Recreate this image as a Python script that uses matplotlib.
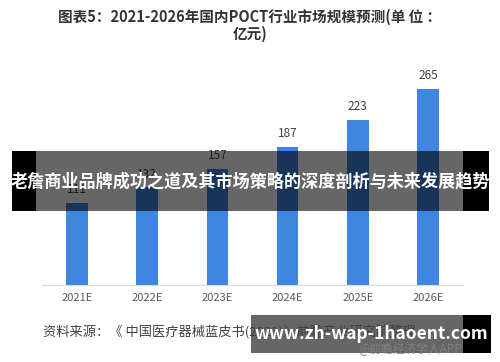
import matplotlib
matplotlib.use("Agg")
import matplotlib.pyplot as plt
from matplotlib.patches import Rectangle

plt.rcParams['font.family'] = ['Noto Sans CJK SC', 'DejaVu Sans']

years = ["2021E", "2022E", "2023E", "2024E", "2025E", "2026E"]
market_size = [111, 132, 157, 187, 223, 265]

W, H = 500, 362
fig = plt.figure(figsize=(W / 100, H / 100), dpi=100)
ax = fig.add_axes([42 / W, 1 - 285 / H, 421 / W, 222 / H])

x = range(len(years))
ax.bar(x, market_size, width=0.31, color="#3e86e0")
for i, v in enumerate(market_size):
    ax.text(i, v + 9, str(v), ha="center", va="bottom", fontsize=8.5, color="#404040")

ax.set_xlim(-0.5, len(years) - 0.5)
ax.set_ylim(0, 300)
ax.set_xticks(list(x))
ax.set_xticklabels(years, fontsize=8, color="#595959")
ax.tick_params(axis="x", length=0, pad=6)
ax.set_yticks([])
for s in ["top", "right", "left"]:
    ax.spines[s].set_visible(False)
ax.spines["bottom"].set_color("#d9d9d9")

# title
fig.text(0.5, 1 - 17 / H, "图表5：2021-2026年国内POCT行业市场规模预测(单 位 ：",
         ha="center", va="center", fontsize=10.5, fontweight="bold", color="#333333")
fig.text(0.5, 1 - 34 / H, "亿元)", ha="center", va="center",
         fontsize=10.5, fontweight="bold", color="#333333")

# source
fig.text(43 / W, 1 - 332 / H, "资料来源：《 中国医疗器械蓝皮书(2021)》前瞻产业研究院整理",
         ha="left", va="center", fontsize=9.5, color="#404040")
fig.text(462 / W, 1 - 349 / H, "@前瞻经济学人APP", ha="right", va="center",
         fontsize=8.5, color="#808080")


def rect(x0, x1, y0, y1, alpha):
    fig.add_artist(Rectangle((x0 / W, 1 - y1 / H), (x1 - x0) / W, (y1 - y0) / H,
                             transform=fig.transFigure, color="black", alpha=alpha, lw=0))


# overlay banners: solid black ends, translucent middle
rect(12, 36, 151, 211, 1.0)
rect(463, 489, 151, 211, 1.0)
rect(36, 463, 151, 211, 0.6)
fig.text(250 / W, 1 - 181 / H, "老詹商业品牌成功之道及其市场策略的深度剖析与未来发展趋势",
         ha="center", va="center", fontsize=12.3, fontweight="bold", color="white")

rect(251, 463, 315, 353, 0.6)
rect(463, 491, 315, 353, 1.0)
fig.text(371 / W, 1 - 334 / H, "www.zh-wap-1haoent.com",
         ha="center", va="center", fontsize=12.5, fontweight="bold", color="white")

fig.savefig("out.png", dpi=100)
